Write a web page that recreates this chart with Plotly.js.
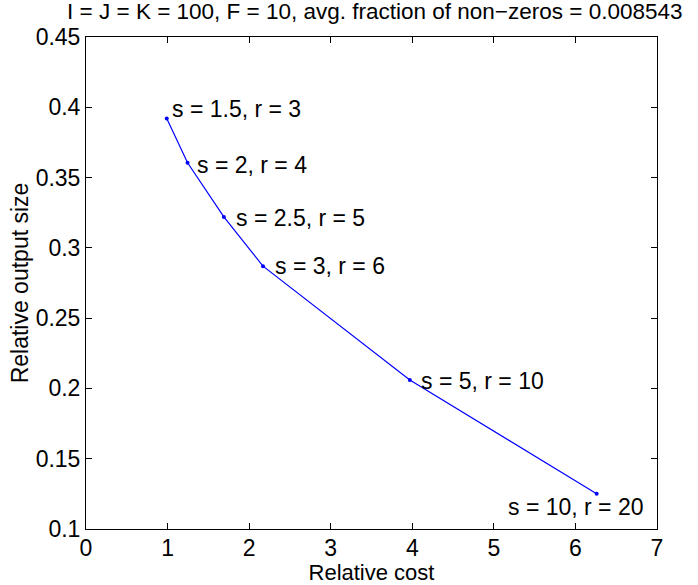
<!DOCTYPE html>
<html>
<head>
<meta charset="utf-8">
<script src="https://cdn.plot.ly/plotly-3.0.1.min.js"></script>
<style>html,body{margin:0;padding:0;background:#fff;}#chart{width:698px;height:585px;}</style>
</head>
<body>
<div id="chart"></div>
<script>
var relCost = [0.99, 1.245, 1.69, 2.17, 3.97, 6.26];
var relSize = [0.392, 0.3605, 0.322, 0.287, 0.206, 0.125];
var pointLabels = ["s = 1.5, r = 3", "s = 2, r = 4", "s = 2.5, r = 5", "s = 3, r = 6", "s = 5, r = 10", "s = 10, r = 20"];
var xTicks = [0, 1, 2, 3, 4, 5, 6, 7];
var yTicks = [0.1, 0.15, 0.2, 0.25, 0.3, 0.35, 0.4, 0.45];
var yTickText = ["0.1", "0.15", "0.2", "0.25", "0.3", "0.35", "0.4", "0.45"];
var titleText = "I = J = K = 100, F = 10, avg. fraction of non\u2212zeros = 0.008543";

var FONT = "Liberation Sans, Arial, Helvetica, sans-serif";
var fs = 23;

var trace = {
  x: relCost, y: relSize, type: "scatter", mode: "lines+markers",
  line: {color: "#0000ff", width: 1.2},
  marker: {color: "#0000ff", size: 4},
  hoverinfo: "skip", showlegend: false
};

var shiftsX = [3, 7, 10, 10, 9, 49];
var shiftsY = [10, -2, -1, 0, -1, -13];
var annotations = pointLabels.map(function (t, i) {
  var last = (i === pointLabels.length - 1);
  return {
    x: relCost[i], y: relSize[i], xref: "x", yref: "y", text: t,
    showarrow: false,
    xanchor: last ? "right" : "left", yanchor: "middle",
    xshift: shiftsX[i], yshift: shiftsY[i],
    font: {family: FONT, size: fs, color: "#000"}
  };
});

var axisCommon = {
  showgrid: false, zeroline: false, showline: true, mirror: "ticks",
  linecolor: "#000", linewidth: 1, ticks: "inside", ticklen: 6, tickcolor: "#000",
  tickfont: {family: FONT, size: fs, color: "#000"}, fixedrange: true
};

var layout = {
  width: 698, height: 585,
  margin: {l: 86, r: 41, t: 37, b: 56, pad: 0},
  paper_bgcolor: "#fff", plot_bgcolor: "#fff",
  title: {text: titleText, font: {family: FONT, size: 22.5, color: "#000"}, x: 0.537, xanchor: "center", y: 0.994, yanchor: "top"},
  xaxis: Object.assign({}, axisCommon, {
    range: [0, 7], tickmode: "array", tickvals: xTicks, ticklabelstandoff: -2,
    title: {text: "Relative cost", font: {family: FONT, size: 22, color: "#000"}, standoff: 5}
  }),
  yaxis: Object.assign({}, axisCommon, {
    range: [0.1, 0.45], tickmode: "array", tickvals: yTicks, ticktext: yTickText,
    title: {text: "Relative output size", font: {family: FONT, size: fs, color: "#000"}, standoff: 0}
  }),
  annotations: annotations
};

Plotly.newPlot("chart", [trace], layout, {staticPlot: true, displayModeBar: false});
</script>
</body>
</html>
